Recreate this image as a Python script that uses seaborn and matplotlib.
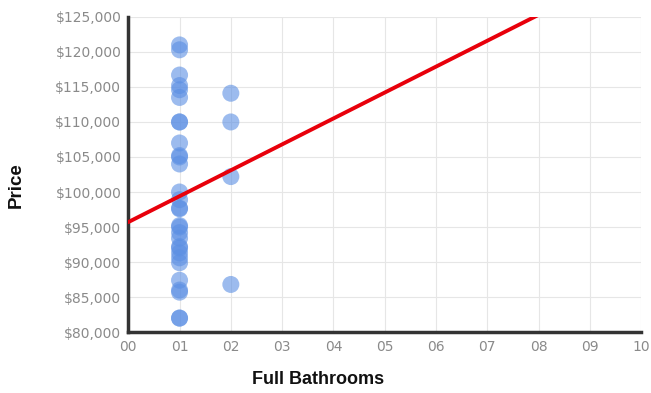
import matplotlib
matplotlib.use("Agg")
import matplotlib.pyplot as plt
import seaborn as sns
import pandas as pd
from matplotlib.ticker import FuncFormatter, MultipleLocator

bathrooms = [1]*30 + [2]*4
prices = [121000, 120300, 116700, 115200, 114600, 113500,
          110000, 110000, 107000, 105200, 105000, 104000,
          100000, 98900, 97700, 97600, 95200, 95000, 94200, 93400,
          92200, 92000, 91300, 90600, 89900, 87400, 86000, 85700,
          82000, 82000,
          114100, 110000, 102200, 86800]

line_x = [0, 10]
line_y = [95700, 132700]

x_ticks = list(range(0, 11))
x_tick_labels = [f"{v:02d}" for v in x_ticks]

df = pd.DataFrame({"Full Bathrooms": bathrooms, "Price": prices})

sns.set_style("white")
fig = plt.figure(figsize=(6.51, 3.93), dpi=100)
ax = fig.add_axes([0.197, 0.155, 0.788, 0.802])

sns.scatterplot(data=df, x="Full Bathrooms", y="Price", ax=ax,
                color="#5b8fe3", alpha=0.6, s=150, edgecolor="none", zorder=3)
sns.lineplot(x=line_x, y=line_y, ax=ax, color="#e8000b", linewidth=2.8, zorder=4)

ax.set_xlim(0, 10)
ax.set_ylim(80000, 125000)
ax.set_xticks(x_ticks)
ax.set_xticklabels(x_tick_labels)
ax.yaxis.set_major_locator(MultipleLocator(5000))
ax.yaxis.set_major_formatter(FuncFormatter(lambda v, p: f"${v:,.0f}"))
ax.grid(True, color="#e6e6e6", linewidth=0.8, zorder=0)
ax.set_axisbelow(True)

for s in ["top", "right"]:
    ax.spines[s].set_visible(False)
for s in ["left", "bottom"]:
    ax.spines[s].set_color("#333333")
    ax.spines[s].set_linewidth(2.5)

ax.tick_params(axis="both", labelsize=10, colors="#8a8a8a", length=0,
               labelfontfamily="DejaVu Sans")
ax.tick_params(axis="x", pad=6)
ax.tick_params(axis="y", pad=5)
ax.set_xlabel("Full Bathrooms", fontsize=13, fontweight="bold", color="#111111",
              family="Liberation Sans")
ax.set_ylabel("Price", fontsize=13.5, fontweight="bold", color="#111111",
              family="Liberation Sans")
ax.xaxis.set_label_coords(0.370, -0.152)
ax.yaxis.set_label_coords(-0.218, 0.467)
ax.xaxis.label.set_verticalalignment("center")
ax.yaxis.label.set_verticalalignment("center")

fig.savefig("out.png", dpi=100)
